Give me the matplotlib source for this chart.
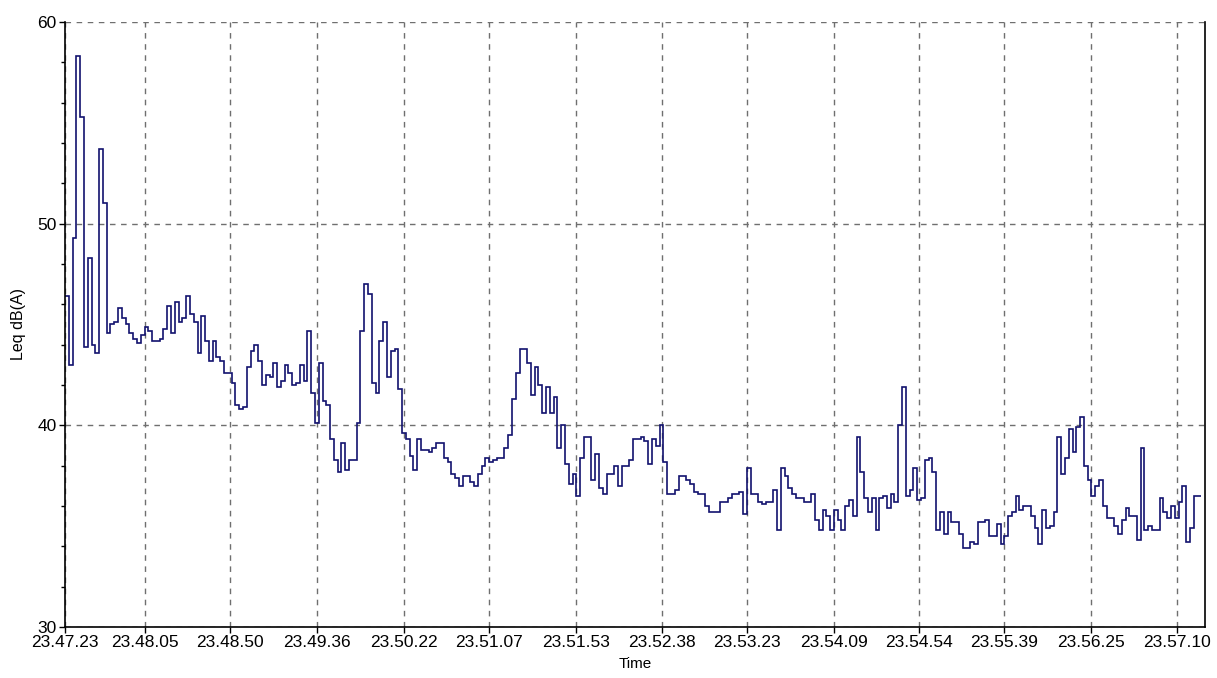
import matplotlib
matplotlib.use("Agg")
import matplotlib.pyplot as plt
from matplotlib.ticker import MultipleLocator

# Leq log, one reading every 2 seconds from the start time
start_time = "23.47.23"
step_s = 2

leq_db = [
    46.4, 43.0, 49.3, 58.3, 55.3, 43.9, 48.3, 44.0, 43.6, 53.7,
    51.0, 44.6, 45.0, 45.1, 45.8, 45.3, 45.0, 44.6, 44.3, 44.1,
    44.5, 44.9, 44.7, 44.2, 44.2, 44.3, 44.8, 45.9, 44.6, 46.1,
    45.1, 45.3, 46.4, 45.5, 45.1, 43.6, 45.4, 44.2, 43.2, 44.2,
    43.4, 43.2, 42.6, 42.6, 42.1, 41.0, 40.8, 40.9, 42.9, 43.7,
    44.0, 43.2, 42.0, 42.5, 42.4, 43.1, 41.9, 42.2, 43.0, 42.6,
    42.0, 42.1, 43.0, 42.2, 44.7, 41.6, 40.1, 43.1, 41.2, 41.0,
    39.3, 38.3, 37.7, 39.1, 37.8, 38.3, 38.3, 40.1, 44.7, 47.0,
    46.5, 42.1, 41.6, 44.2, 45.1, 42.4, 43.7, 43.8, 41.8, 39.6,
    39.3, 38.5, 37.8, 39.3, 38.8, 38.8, 38.7, 38.9, 39.1, 39.1,
    38.4, 38.2, 37.6, 37.4, 37.0, 37.5, 37.5, 37.2, 37.0, 37.6,
    38.0, 38.4, 38.2, 38.3, 38.4, 38.4, 38.9, 39.5, 41.3, 42.6,
    43.8, 43.8, 43.1, 41.5, 42.9, 42.0, 40.6, 41.9, 40.6, 41.4,
    38.9, 40.0, 38.1, 37.1, 37.6, 36.5, 38.4, 39.4, 39.4, 37.3,
    38.6, 36.9, 36.6, 37.6, 37.6, 38.0, 37.0, 38.0, 38.0, 38.3,
    39.3, 39.3, 39.4, 39.2, 38.1, 39.3, 39.0, 40.0, 38.2, 36.6,
    36.6, 36.8, 37.5, 37.5, 37.3, 37.1, 36.7, 36.6, 36.6, 36.0,
    35.7, 35.7, 35.7, 36.2, 36.2, 36.4, 36.6, 36.6, 36.7, 35.6,
    37.9, 36.6, 36.6, 36.2, 36.1, 36.2, 36.2, 36.8, 34.8, 37.9,
    37.5, 36.9, 36.6, 36.4, 36.4, 36.2, 36.2, 36.6, 35.3, 34.8,
    35.8, 35.5, 34.8, 35.8, 35.3, 34.8, 36.0, 36.3, 35.5, 39.4,
    37.7, 36.4, 35.7, 36.4, 34.8, 36.4, 36.5, 35.9, 36.6, 36.2,
    40.0, 41.9, 36.5, 36.8, 37.9, 36.3, 36.4, 38.3, 38.4, 37.7,
    34.8, 35.7, 34.6, 35.7, 35.2, 35.2, 34.6, 33.9, 33.9, 34.2,
    34.1, 35.2, 35.2, 35.3, 34.5, 34.5, 35.1, 34.1, 34.5, 35.5,
    35.7, 36.5, 35.8, 36.0, 36.0, 35.5, 34.9, 34.1, 35.8, 34.9,
    35.0, 35.7, 39.4, 37.6, 38.4, 39.8, 38.7, 39.9, 40.4, 38.0,
    37.3, 36.5, 37.0, 37.3, 36.0, 35.4, 35.4, 35.0, 34.6, 35.3,
    35.9, 35.5, 35.5, 34.3, 38.9, 34.8, 35.0, 34.8, 34.8, 36.4,
    35.7, 35.4, 36.0, 35.4, 36.2, 37.0, 34.2, 34.9, 36.5, 36.5,
]

tick_labels = [
    "23.47.23", "23.48.05", "23.48.50", "23.49.36", "23.50.22",
    "23.51.07", "23.51.53", "23.52.38", "23.53.23", "23.54.09",
    "23.54.54", "23.55.39", "23.56.25", "23.57.10",
]
y_ticks = [30, 40, 50, 60]


def toSeconds(label):
    """
    Converts an H.MM.SS label into seconds of the day.
    """
    h, m, s = (int(p) for p in label.split("."))
    return h * 3600 + m * 60 + s


def main():
    plt.rcParams["font.family"] = ["Liberation Sans", "DejaVu Sans"]

    t0 = toSeconds(start_time)
    edges = [i * step_s for i in range(len(leq_db) + 1)]
    tick_pos = [toSeconds(lbl) - t0 for lbl in tick_labels]

    fig = plt.figure(figsize=(12.17, 6.78), dpi=100)
    ax = fig.add_axes([0.0534, 0.0752, 0.9368, 0.8924])

    # step trace of the level readings
    ax.stairs(leq_db, edges, baseline=None, color="#12126e", linewidth=1.2)

    ax.set_xlim(0, 602)
    ax.set_ylim(30, 60)
    ax.set_xticks(tick_pos)
    ax.set_xticklabels(tick_labels)
    ax.set_yticks(y_ticks)
    ax.yaxis.set_minor_locator(MultipleLocator(2))

    ax.set_axisbelow(True)
    ax.grid(True, which="major", color="#6f6f6f", linestyle=(0, (4, 4)), linewidth=1.0)

    ax.spines["top"].set_visible(False)
    for side in ("left", "bottom", "right"):
        ax.spines[side].set_linewidth(1.2)
        ax.spines[side].set_color("black")

    ax.tick_params(axis="both", which="major", direction="out", length=4, width=1,
                   labelsize=12.5, colors="black")
    ax.tick_params(axis="x", which="major", pad=1.5)
    ax.tick_params(axis="y", which="major", pad=2)
    ax.tick_params(axis="y", which="minor", direction="out", length=3, width=1)

    ax.set_xlabel("Time", fontsize=11, labelpad=5)
    ax.set_ylabel("Leq dB(A)", fontsize=11.5, labelpad=8)

    fig.savefig("out.png", dpi=100)


if __name__ == '__main__':
    main()
